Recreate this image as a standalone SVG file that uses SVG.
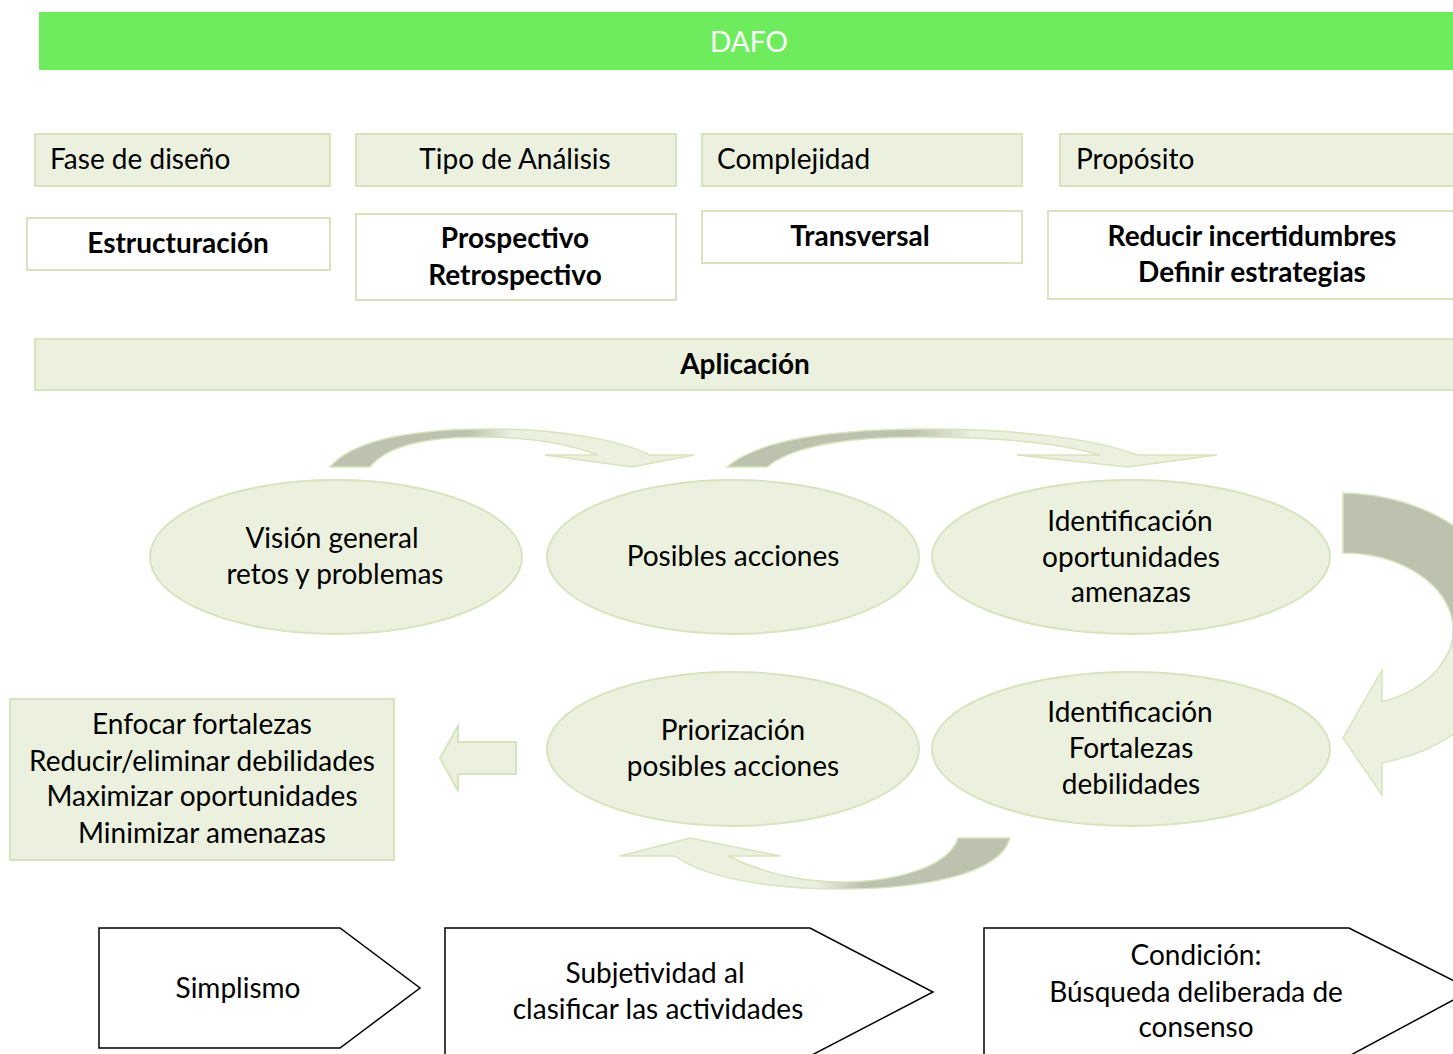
<svg xmlns="http://www.w3.org/2000/svg" width="1453" height="1054" viewBox="0 0 1453 1054">
<style>
.t{font-family:Lato,"Liberation Sans",sans-serif;font-size:28px;fill:#000}
.b{font-weight:bold}
.c{text-anchor:middle}
.lg{fill:#EBF1DE;stroke:#D7E4BD;stroke-width:2}
.wb{fill:#fff;stroke:#D7E4BD;stroke-width:2}
.pe{fill:#fff;stroke:#000;stroke-width:1.5}
</style>
<defs>
<linearGradient id="gh" x1="0" y1="0" x2="1" y2="0">
<stop offset="0" stop-color="#BCC2AE"/><stop offset="0.38" stop-color="#BCC2AE"/><stop offset="0.5" stop-color="#EBF1DE"/><stop offset="1" stop-color="#EBF1DE"/>
</linearGradient>
<linearGradient id="gb" x1="0" y1="0" x2="1" y2="0">
<stop offset="0" stop-color="#EBF1DE"/><stop offset="0.5" stop-color="#EBF1DE"/><stop offset="0.62" stop-color="#BCC2AE"/><stop offset="1" stop-color="#BCC2AE"/>
</linearGradient>
<linearGradient id="gv" x1="0" y1="0" x2="0" y2="1">
<stop offset="0" stop-color="#BCC2AE"/><stop offset="0.45" stop-color="#BCC2AE"/><stop offset="0.52" stop-color="#EBF1DE"/><stop offset="1" stop-color="#EBF1DE"/>
</linearGradient>
</defs>
<rect width="1453" height="1054" fill="#fff"/>
<g id="header">
<rect x="39" y="12" width="1420" height="58" fill="#6EEC5E"/>
<text x="749" y="52" class="t c" style="fill:#fff;font-size:28px">DAFO</text>
</g>
<g id="fase"><rect class="lg" x="35" y="134" width="295" height="52"/><text class="t" x="50" y="169">Fase de diseño</text></g>
<g id="tipo"><rect class="lg" x="356" y="134" width="320" height="52"/><text class="t c" x="515" y="169">Tipo de Análisis</text></g>
<g id="complejidad"><rect class="lg" x="702" y="134" width="320" height="52"/><text class="t" x="717" y="169">Complejidad</text></g>
<g id="proposito"><rect class="lg" x="1060" y="134" width="400" height="52"/><text class="t" x="1076" y="169">Propósito</text></g>
<g id="estructuracion"><rect class="wb" x="27" y="218" width="303" height="52"/><text class="t b c" x="178" y="253">Estructuración</text></g>
<g id="prospectivo"><rect class="wb" x="356" y="214" width="320" height="86"/><text class="t b c" x="515" y="248">Prospectivo</text><text class="t b c" x="515" y="285">Retrospectivo</text></g>
<g id="transversal"><rect class="wb" x="702" y="211" width="320" height="52"/><text class="t b c" x="860" y="246">Transversal</text></g>
<g id="reducir"><rect class="wb" x="1048" y="211" width="412" height="88"/><text class="t b c" x="1252" y="246">Reducir incertidumbres</text><text class="t b c" x="1252" y="282">Definir estrategias</text></g>
<g id="aplicacion"><rect class="lg" x="35" y="339" width="1425" height="51"/><text class="t b c" x="745" y="374">Aplicación</text></g>
<g id="connectors">
<path fill="url(#gh)" stroke="#D7E4BD" stroke-width="1.5" d="M330,467 C355,438 420,429 490,429 C560,429 620,440 650,455 L694,455 L632,467 L545,455 L598,455 C565,443 530,437 480,437 C420,437 385,448 370,467 Z"/>
<path fill="url(#gh)" stroke="#D7E4BD" stroke-width="1.5" d="M727,467 C760,438 840,429 930,429 C1020,429 1100,440 1137,455 L1217,455 L1128,467 L1017,455 L1100,455 C1060,443 1000,437 920,437 C840,437 790,448 767,467 Z"/>
<path fill="url(#gv)" stroke="#D7E4BD" stroke-width="1.5" d="M1343,493 A175,137 0 0 1 1382,763 L1382,795 L1343,738 L1382,670 L1382,702 A110,77 0 0 0 1343,553 Z"/>
<path fill="url(#gb)" stroke="#D7E4BD" stroke-width="1.5" d="M1010,838 C1000,875 920,889 840,889 C760,889 700,875 675,856 L620,856 L690,838 L780,856 L728,856 C760,872 800,882 840,882 C900,882 950,865 958,838 Z"/>
<path class="lg" d="M516,742 L458,742 L458,726 L440,758 L458,791 L458,774 L516,774 Z"/>
</g>
<g id="vision"><ellipse class="lg" cx="336" cy="557" rx="186" ry="77"/><text class="t c" x="332" y="548">Visión general</text><text class="t c" x="335" y="584">retos y problemas</text></g>
<g id="posibles"><ellipse class="lg" cx="733" cy="557" rx="186" ry="77"/><text class="t c" x="733" y="566">Posibles acciones</text></g>
<g id="oportunidades"><ellipse class="lg" cx="1131" cy="557" rx="199" ry="77"/><text class="t c" x="1130" y="531">Identificación</text><text class="t c" x="1131" y="567">oportunidades</text><text class="t c" x="1131" y="602">amenazas</text></g>
<g id="priorizacion"><ellipse class="lg" cx="733" cy="749" rx="186" ry="77"/><text class="t c" x="733" y="740">Priorización</text><text class="t c" x="733" y="776">posibles acciones</text></g>
<g id="fortalezas"><ellipse class="lg" cx="1131" cy="749" rx="199" ry="77"/><text class="t c" x="1130" y="722">Identificación</text><text class="t c" x="1131" y="758">Fortalezas</text><text class="t c" x="1131" y="794">debilidades</text></g>
<g id="enfocar"><rect class="lg" x="10" y="699" width="384" height="161"/><text class="t c" x="202" y="734">Enfocar fortalezas</text><text class="t c" x="202" y="771">Reducir/eliminar debilidades</text><text class="t c" x="202" y="806">Maximizar oportunidades</text><text class="t c" x="202" y="843">Minimizar amenazas</text></g>
<g id="simplismo"><polygon class="pe" points="99,928 340,928 420,988 340,1048 99,1048"/><text class="t c" x="238" y="998">Simplismo</text></g>
<g id="subjetividad"><polygon class="pe" points="445,928 810,928 933,992 810,1056 445,1056"/><text class="t c" x="655" y="983">Subjetividad al</text><text class="t c" x="658" y="1019">clasificar las actividades</text></g>
<g id="condicion"><polygon class="pe" points="984,928 1349,928 1472,990 1349,1056 984,1056"/><text class="t c" x="1196" y="965">Condición:</text><text class="t c" x="1196" y="1002">Búsqueda deliberada de</text><text class="t c" x="1196" y="1037">consenso</text></g>
</svg>
